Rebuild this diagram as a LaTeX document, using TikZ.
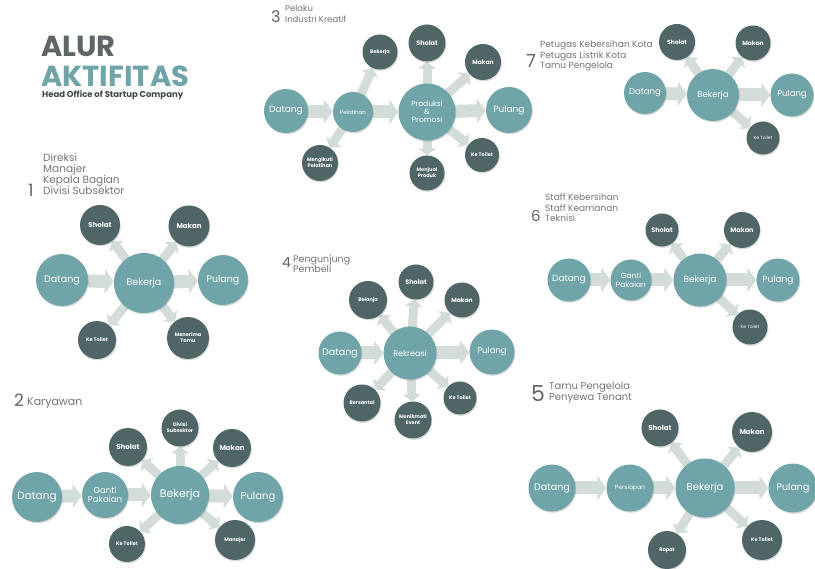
\documentclass[tikz,border=0pt]{standalone}
\usepackage{fontspec}
\setmainfont{Poppins}
\usepackage{tikz}
\usetikzlibrary{arrows.meta,positioning,shadows,backgrounds}
\definecolor{tealc}{HTML}{6FA4A8}
\definecolor{slatec}{HTML}{4F6566}
\definecolor{flowc}{HTML}{D3DCD8}
\definecolor{capc}{HTML}{6F7677}
\definecolor{titlec}{HTML}{5E6667}
\definecolor{headc}{HTML}{3E4849}
\tikzstyle{station}=[circle,inner sep=0pt,text=white,align=center,drop shadow={shadow xshift=0.8pt,shadow yshift=-1.3pt,opacity=0.3}]
\tikzstyle{main station}=[station,fill=tealc,font=\fontsize{9}{10}\selectfont]
\tikzstyle{side station}=[station,fill=slatec,font=\bfseries\fontsize{6.5}{7.5}\selectfont]
\tikzstyle{tiny text}=[font=\bfseries\fontsize{5}{6}\selectfont]
\tikzstyle{flow}=[draw=flowc,line width=13pt,-{Triangle[width=24pt,length=9pt]},shorten <=-6pt]
\tikzstyle{side flow}=[flow,line width=9pt,-{Triangle[width=18pt,length=7pt]},shorten <=-5pt]
\tikzstyle{caption}=[anchor=west,text=capc,align=left,inner sep=0pt,font=\fontsize{9}{10.5}\selectfont]
\tikzstyle{number}=[anchor=base west,text=titlec,inner sep=0pt]
\tikzstyle{title}=[anchor=base west,inner sep=0pt,text depth=0pt,font=\bfseries\fontsize{29}{29}\selectfont]

\begin{document}
\begin{tikzpicture}[x=1pt,y=-1pt]
  \useasboundingbox (0,0) rectangle (815,569);

  % title
  \node[title,text=titlec] (alur) at (41,57) {ALUR};
  \node[title,text=tealc] (aktifitas) at (41,87) {AKTIFITAS};
  \node[anchor=base west,inner sep=0pt,text height=6pt,text depth=0pt,text=headc,font=\bfseries\fontsize{8.5}{8.5}\selectfont] (head) at (42,98) {Head Office of Startup Company};

  % 1 direksi
  \node[number,font=\fontsize{17}{17}\selectfont] (n1) at (28,197) {1};
  \node[caption,font=\fontsize{10.5}{11}\selectfont] (cap1) at (43,174) {Direksi\\Manajer\\Kepala Bagian\\Divisi Subsektor};
  \node[main station,minimum size=52pt,font=\fontsize{9.5}{10}\selectfont] (D1) at (62,280) {Datang};
  \node[main station,minimum size=60pt,font=\fontsize{9.5}{10}\selectfont] (B1) at (144,283) {Bekerja};
  \node[main station,minimum size=50pt,font=\fontsize{9.5}{10}\selectfont] (P1) at (223,280) {Pulang};
  \node[side station,minimum size=40pt,font=\bfseries\fontsize{7}{8}\selectfont] (S1) at (100,225) {Sholat};
  \node[side station,minimum size=41pt,font=\bfseries\fontsize{7}{8}\selectfont] (M1) at (189,226) {Makan};
  \node[side station,minimum size=38pt,tiny text] (T1) at (97,340) {Ke Toilet};
  \node[side station,minimum size=42pt,tiny text] (R1) at (188,338) {Menerima\\Tamu};

  % 2 karyawan
  \node[number,font=\fontsize{17}{17}\selectfont] (n2) at (14,407) {2};
  \node[caption,font=\fontsize{11}{11}\selectfont] (cap2) at (27,403) {Karyawan};
  \node[main station,minimum size=50pt,font=\fontsize{10.5}{11}\selectfont] (D2) at (37,497) {Datang};
  \node[main station,minimum size=46pt,font=\fontsize{8.5}{9}\selectfont] (G2) at (105,495) {Ganti\\Pakaian};
  \node[main station,minimum size=58pt,font=\fontsize{11}{12}\selectfont] (B2) at (180,495) {Bekerja};
  \node[main station,minimum size=50pt,font=\fontsize{10}{11}\selectfont] (P2) at (258,497) {Pulang};
  \node[side station,minimum size=38pt,font=\bfseries\fontsize{7}{8}\selectfont] (S2) at (128,447) {Sholat};
  \node[side station,minimum size=37pt,tiny text] (V2) at (180,428) {Divisi\\Subsektor};
  \node[side station,minimum size=38pt,font=\bfseries\fontsize{7}{8}\selectfont] (M2) at (232,448) {Makan};
  \node[side station,minimum size=36pt,tiny text] (T2) at (127,544) {Ke Toilet};
  \node[side station,minimum size=40pt,tiny text] (J2) at (235,540) {Manajer};

  % 3 pelaku industri kreatif
  \node[number,font=\fontsize{16}{16}\selectfont] (n3) at (271,23) {3};
  \node[caption,font=\fontsize{8.5}{11}\selectfont] (cap3) at (285,14) {Pelaku\\Industri Kreatif};
  \node[main station,minimum size=44pt,font=\fontsize{9}{10}\selectfont] (D3) at (286,111) {Datang};
  \node[main station,minimum size=40pt,tiny text,font=\fontsize{5.5}{6}\selectfont] (L3) at (353,112) {Pelatihan};
  \node[main station,minimum size=57pt,font=\fontsize{7.5}{8}\selectfont] (B3) at (427,112) {Produksi\\\&\\Promosi};
  \node[main station,minimum size=46pt,font=\fontsize{9}{10}\selectfont] (P3) at (509,110) {Pulang};
  \node[side station,minimum size=35pt,tiny text] (K3) at (380,52) {Bekerja};
  \node[side station,minimum size=37pt] (S3) at (427,43) {Sholat};
  \node[side station,minimum size=36pt,font=\bfseries\fontsize{6}{7}\selectfont] (M3) at (483,62) {Makan};
  \node[side station,minimum size=34pt,tiny text] (T3) at (482,155) {Ke Toilet};
  \node[side station,minimum size=35pt,tiny text] (J3) at (427,173) {Menjual\\Produk};
  \node[side station,minimum size=36pt,tiny text] (I3) at (320,163) {Mengikuti\\Pelatihan};

  % 4 pengunjung pembeli
  \node[number,font=\fontsize{14}{14}\selectfont] (n4) at (282,268) {4};
  \node[caption,font=\fontsize{9.5}{10}\selectfont] (cap4) at (293,264) {Pengunjung\\Pembeli};
  \node[main station,minimum size=43pt,font=\fontsize{9.5}{10}\selectfont] (D4) at (340,353) {Datang};
  \node[main station,minimum size=53pt,font=\fontsize{8}{9}\selectfont] (R4) at (410,353) {Rekreasi};
  \node[main station,minimum size=45pt,font=\fontsize{8.5}{9}\selectfont] (P4) at (492,352) {Pulang};
  \node[side station,minimum size=38pt,tiny text] (L4) at (368,300) {Belanja};
  \node[side station,minimum size=35pt] (S4) at (416,282) {Sholat};
  \node[side station,minimum size=35pt,font=\bfseries\fontsize{6}{7}\selectfont] (M4) at (462,300) {Makan};
  \node[side station,minimum size=37pt,tiny text] (A4) at (362,403) {Bersantai};
  \node[side station,minimum size=37pt,tiny text] (E4) at (413,420) {Menikmati\\Event};
  \node[side station,minimum size=33pt,tiny text] (T4) at (460,398) {Ke Toilet};

  % 5 tamu pengelola penyewa tenant
  \node[number,font=\fontsize{22}{22}\selectfont] (n5) at (531,402) {5};
  \node[caption,font=\fontsize{10}{11}\selectfont] (cap5) at (549,393) {Tamu Pengelola\\Penyewa Tenant};
  \node[main station,minimum size=47pt,font=\fontsize{9.5}{10}\selectfont] (D5) at (552,488) {Datang};
  \node[main station,minimum size=47pt,tiny text,font=\fontsize{6}{7}\selectfont] (C5) at (630,488) {Persiapan};
  \node[main station,minimum size=59pt,font=\fontsize{10}{11}\selectfont] (B5) at (705,488) {Bekerja};
  \node[main station,minimum size=49pt,font=\fontsize{9.5}{10}\selectfont] (P5) at (793,488) {Pulang};
  \node[side station,minimum size=37pt,font=\bfseries\fontsize{7}{8}\selectfont] (S5) at (660,428) {Sholat};
  \node[side station,minimum size=40pt,font=\bfseries\fontsize{7}{8}\selectfont] (M5) at (752,432) {Makan};
  \node[side station,minimum size=38pt,tiny text] (R5) at (667,550) {Rapat};
  \node[side station,minimum size=40pt,tiny text] (T5) at (762,540) {Ke Toilet};

  % 6 staff
  \node[number,font=\fontsize{15}{15}\selectfont] (n6) at (531,222) {6};
  \node[caption,font=\fontsize{9}{10.5}\selectfont] (cap6) at (545,208) {Staff Kebersihan\\Staff Keamanan\\Teknisi};
  \node[main station,minimum size=43pt,font=\fontsize{9}{10}\selectfont] (D6) at (569,280) {Datang};
  \node[main station,minimum size=41pt,font=\fontsize{7.5}{8.5}\selectfont] (G6) at (631,280) {Ganti\\Pakaian};
  \node[main station,minimum size=53pt,font=\fontsize{9}{10}\selectfont] (B6) at (700,280) {Bekerja};
  \node[main station,minimum size=43pt,font=\fontsize{9}{10}\selectfont] (P6) at (778,280) {Pulang};
  \node[side station,minimum size=33pt] (S6) at (662,230) {Sholat};
  \node[side station,minimum size=36pt] (M6) at (742,230) {Makan};
  \node[side station,minimum size=35pt,tiny text,font=\fontsize{4.5}{5}\selectfont] (T6) at (750,327) {Ke Toilet};

  % 7 petugas kota
  \node[number,font=\fontsize{18}{18}\selectfont] (n7) at (526,68) {7};
  \node[caption] (cap7) at (540,56) {Petugas Kebersihan Kota\\Petugas Listrik Kota\\Tamu Pengelola};
  \node[main station,minimum size=42pt,font=\fontsize{8.5}{9}\selectfont] (D7) at (645,93) {Datang};
  \node[main station,minimum size=52pt,font=\fontsize{8.5}{9}\selectfont] (B7) at (713,95) {Bekerja};
  \node[main station,minimum size=43pt,font=\fontsize{8.5}{9}\selectfont] (P7) at (792,95) {Pulang};
  \node[side station,minimum size=36pt,font=\bfseries\fontsize{6}{7}\selectfont] (S7) at (677,42) {Sholat};
  \node[side station,minimum size=35pt,font=\bfseries\fontsize{6}{7}\selectfont] (M7) at (753,43) {Makan};
  \node[side station,minimum size=33pt,tiny text,font=\fontsize{4.5}{5}\selectfont] (T7) at (763,138) {Ke Toilet};

  \begin{scope}[on background layer]
    \fill[white] (0,0) rectangle (815,569);
    % 1
    \path (D1) edge[flow] (B1);
    \path (B1) edge[flow] (P1);
    \path (B1) edge[side flow] (S1);
    \path (B1) edge[side flow] (M1);
    \path (B1) edge[side flow] (T1);
    \path (B1) edge[side flow] (R1);
    % 2
    \path (D2) edge[flow] (G2);
    \path (G2) edge[flow] (B2);
    \path (B2) edge[flow] (P2);
    \path (B2) edge[side flow] (S2);
    \path (B2) edge[side flow] (V2);
    \path (B2) edge[side flow] (M2);
    \path (B2) edge[side flow] (T2);
    \path (B2) edge[side flow] (J2);
    % 3
    \path (D3) edge[flow] (L3);
    \path (L3) edge[flow] (B3);
    \path (B3) edge[flow] (P3);
    \path (L3) edge[side flow] (K3);
    \path (L3) edge[side flow] (I3);
    \path (B3) edge[side flow] (S3);
    \path (B3) edge[side flow] (M3);
    \path (B3) edge[side flow] (T3);
    \path (B3) edge[side flow] (J3);
    % 4
    \path (D4) edge[flow] (R4);
    \path (R4) edge[flow] (P4);
    \path (R4) edge[side flow] (L4);
    \path (R4) edge[side flow] (S4);
    \path (R4) edge[side flow] (M4);
    \path (R4) edge[side flow] (A4);
    \path (R4) edge[side flow] (E4);
    \path (R4) edge[side flow] (T4);
    % 5
    \path (D5) edge[flow] (C5);
    \path (C5) edge[flow] (B5);
    \path (B5) edge[flow] (P5);
    \path (B5) edge[side flow] (S5);
    \path (B5) edge[side flow] (M5);
    \path (B5) edge[side flow] (R5);
    \path (B5) edge[side flow] (T5);
    % 6
    \path (D6) edge[flow] (G6);
    \path (G6) edge[flow] (B6);
    \path (B6) edge[flow] (P6);
    \path (B6) edge[side flow] (S6);
    \path (B6) edge[side flow] (M6);
    \path (B6) edge[side flow] (T6);
    % 7
    \path (D7) edge[flow] (B7);
    \path (B7) edge[flow] (P7);
    \path (B7) edge[side flow] (S7);
    \path (B7) edge[side flow] (M7);
    \path (B7) edge[side flow] (T7);
  \end{scope}
\end{tikzpicture}
\end{document}
